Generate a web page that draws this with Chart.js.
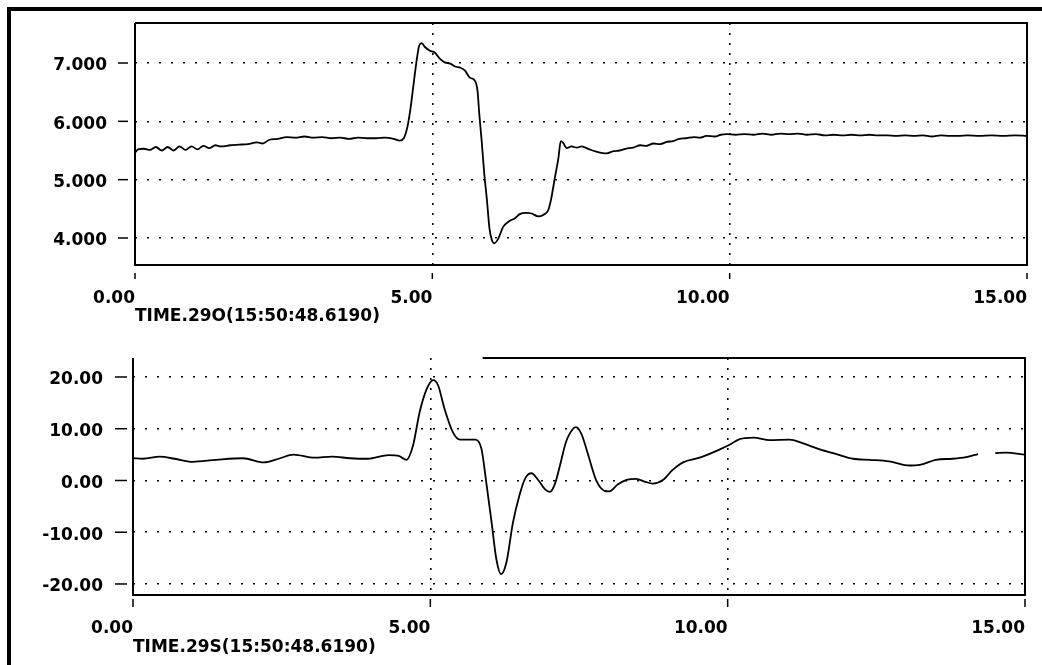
<!DOCTYPE html>
<html>
<head>
<meta charset="utf-8">
<title>TIME.29O / TIME.29S</title>
<script src="https://cdn.jsdelivr.net/npm/chart.js@4.4.0/dist/chart.umd.min.js"></script>
<style>
    html, body { margin: 0; padding: 0; background: #fff; }
    .page { position: relative; width: 1042px; height: 665px; overflow: hidden; }
    .frame { position: absolute; left: 7px; top: 7px; right: 0; bottom: 0; border-left: 4px solid #000; border-top: 4px solid #000; }
    #chart-top { position: absolute; left: 0; top: 0; }
    #chart-bottom { position: absolute; left: 0; top: 330px; }
</style>
</head>
<body>
<div class="page">
    <div class="frame"></div>
    <canvas id="chart-top" width="1042" height="330"></canvas>
    <canvas id="chart-bottom" width="1042" height="335"></canvas>
</div>
<script>
"use strict";

// x axis (seconds)
var xTickValues = [0, 5, 10, 15];

// top trace: TIME.29O
var topTitle = 'TIME.29O(15:50:48.6190)';
var topTickValues = [4, 5, 6, 7];
var timeTop = [
    0.00, 0.05, 0.15, 0.25, 0.35, 0.45, 0.55, 0.65, 0.75, 0.85, 0.95, 1.05, 1.15, 1.25, 1.35, 1.45,
    1.60, 1.75, 1.90, 2.05, 2.15, 2.25, 2.40, 2.55, 2.70, 2.85, 3.00, 3.15, 3.30, 3.45, 3.60, 3.75,
    3.90, 4.05, 4.20, 4.35, 4.45, 4.52, 4.58, 4.63, 4.68, 4.73, 4.78, 4.82, 4.88, 4.96, 5.04, 5.13,
    5.21, 5.30, 5.38, 5.47, 5.55, 5.63, 5.72, 5.76, 5.79, 5.83, 5.87, 5.92, 5.96, 6.00, 6.04, 6.11,
    6.19, 6.28, 6.39, 6.47, 6.58, 6.67, 6.78, 6.87, 6.95, 7.00, 7.06, 7.12, 7.16, 7.20, 7.26, 7.34,
    7.43, 7.51, 7.64, 7.76, 7.93, 8.05, 8.15, 8.25, 8.38, 8.50, 8.60, 8.72, 8.83, 8.95, 9.05, 9.15,
    9.27, 9.40, 9.50, 9.61, 9.75, 9.85, 9.95, 10.10, 10.25, 10.40, 10.55, 10.70, 10.85, 11.00, 11.15, 11.30,
    11.45, 11.60, 11.75, 11.90, 12.05, 12.20, 12.35, 12.50, 12.65, 12.80, 12.95, 13.10, 13.25, 13.40, 13.55, 13.70,
    13.85, 14.00, 14.20, 14.40, 14.60, 14.80, 15.00
];
var valuesTop = [
    5.46, 5.52, 5.53, 5.51, 5.56, 5.50, 5.56, 5.50, 5.57, 5.51, 5.57, 5.52, 5.58, 5.54, 5.59, 5.57,
    5.59, 5.60, 5.61, 5.64, 5.62, 5.68, 5.70, 5.73, 5.72, 5.74, 5.72, 5.73, 5.71, 5.72, 5.70, 5.72,
    5.71, 5.71, 5.72, 5.70, 5.67, 5.71, 5.90, 6.20, 6.60, 7.00, 7.30, 7.34, 7.27, 7.21, 7.18, 7.07,
    7.01, 6.99, 6.94, 6.92, 6.87, 6.75, 6.69, 6.52, 6.12, 5.66, 5.14, 4.63, 4.17, 3.97, 3.91, 3.99,
    4.19, 4.28, 4.34, 4.41, 4.43, 4.42, 4.37, 4.40, 4.48, 4.68, 5.03, 5.37, 5.66, 5.63, 5.54, 5.57,
    5.55, 5.57, 5.52, 5.48, 5.45, 5.49, 5.50, 5.53, 5.55, 5.59, 5.58, 5.62, 5.61, 5.65, 5.66, 5.70,
    5.71, 5.73, 5.72, 5.75, 5.74, 5.77, 5.78, 5.77, 5.78, 5.77, 5.79, 5.77, 5.79, 5.78, 5.79, 5.77,
    5.78, 5.76, 5.77, 5.76, 5.77, 5.76, 5.77, 5.76, 5.76, 5.75, 5.76, 5.75, 5.76, 5.74, 5.76, 5.75,
    5.75, 5.76, 5.75, 5.76, 5.75, 5.76, 5.75
];

// bottom trace: TIME.29S
var bottomTitle = 'TIME.29S(15:50:48.6190)';
var bottomTickValues = [-20, -10, 0, 10, 20];
var timeBottom = [
    0.00, 0.17, 0.45, 0.70, 1.00, 1.40, 1.85, 2.20, 2.45, 2.70, 3.05, 3.35, 3.65, 3.95, 4.30, 4.48,
    4.60, 4.71, 4.82, 4.94, 5.05, 5.13, 5.24, 5.38, 5.50, 5.64, 5.76, 5.86, 5.94, 6.03, 6.11, 6.19,
    6.28, 6.39, 6.50, 6.60, 6.70, 6.82, 6.93, 7.01, 7.10, 7.18, 7.28, 7.40, 7.45, 7.54, 7.64, 7.79,
    7.93, 8.01, 8.15, 8.30, 8.46, 8.60, 8.74, 8.91, 9.08, 9.25, 9.53, 9.87, 10.03, 10.20, 10.43, 10.71,
    11.04, 11.26, 11.55, 11.83, 12.11, 12.39, 12.72, 13.06, 13.23, 13.50, 13.78, 14.01, 14.21, 14.30,
    14.50, 14.68, 15.00
];
var valuesBottom = [
    4.3, 4.2, 4.6, 4.2, 3.6, 4.0, 4.3, 3.5, 4.2, 5.0, 4.4, 4.6, 4.3, 4.2, 4.9, 4.7,
    4.0, 6.8, 13.2, 17.7, 19.4, 18.4, 13.8, 9.3, 7.9, 7.9, 7.9, 6.1, -0.3, -8.1, -15.2, -18.1,
    -15.8, -8.1, -2.8, 0.5, 1.4, 0.0, -1.7, -2.2, -0.5, 2.9, 7.4, 10.0, 10.3, 9.0, 5.5, 0.0,
    -2.0, -2.1, -0.8, 0.1, 0.3, -0.2, -0.6, 0.1, 2.1, 3.5, 4.4, 6.0, 6.9, 8.0, 8.3, 7.8,
    7.9, 7.2, 6.0, 5.1, 4.2, 4.0, 3.7, 2.9, 3.0, 4.0, 4.2, 4.5, 5.1, null,
    5.3, 5.4, 5.0
];

Chart.defaults.color = '#000';
Chart.defaults.font.family = '"DejaVu Sans", sans-serif';
Chart.defaults.font.size = 17;
Chart.defaults.font.weight = 'bold';

// frame, outside tick marks (with a gap, like the plotter draws them)
var scopePlugin = {
    id: 'scope',
    afterDraw: function(chart, args, opts) {
        var ctx = chart.ctx;
        var area = chart.chartArea;
        var xs = chart.scales.x;
        var ys = chart.scales.y;

        ctx.save();
        ctx.strokeStyle = '#000';
        ctx.lineWidth = 2;
        ctx.beginPath();
        ctx.moveTo(area.left, area.top);
        ctx.lineTo(area.left, area.bottom);
        ctx.lineTo(area.right, area.bottom);
        ctx.lineTo(area.right, area.top);
        var topStart = opts.topFrom != null ? xs.getPixelForValue(opts.topFrom) : area.left;
        ctx.lineTo(topStart, area.top);
        ctx.stroke();

        ctx.lineWidth = 1.5;
        ys.ticks.forEach(function(t) {
            var y = ys.getPixelForValue(t.value);
            ctx.beginPath();
            ctx.moveTo(area.left - opts.yTickFar, y);
            ctx.lineTo(area.left - opts.yTickNear, y);
            ctx.stroke();
        });
        xs.ticks.forEach(function(t) {
            var x = xs.getPixelForValue(t.value);
            ctx.beginPath();
            ctx.moveTo(x, area.bottom + opts.xTickGap);
            ctx.lineTo(x, area.bottom + opts.xTickGap + opts.xTickLen);
            ctx.stroke();
        });
        ctx.restore();
    }
};

function makeScope(canvasId, times, values, cfg) {
    var points = times.map(function(t, i) {
        return { x: t, y: values[i] };
    });

    return new Chart(document.getElementById(canvasId), {
        type: 'line',
        data: {
            datasets: [{
                data: points,
                borderColor: '#000',
                borderWidth: 1.8,
                pointRadius: 0,
                fill: false,
                spanGaps: false,
                cubicInterpolationMode: 'monotone'
            }]
        },
        options: {
            responsive: false,
            animation: false,
            events: [],
            layout: { padding: cfg.padding },
            plugins: {
                legend: { display: false },
                tooltip: { enabled: false },
                scope: cfg.scope
            },
            scales: {
                x: {
                    type: 'linear',
                    min: 0,
                    max: 15,
                    afterBuildTicks: function(scale) {
                        scale.ticks = xTickValues.map(function(v) { return { value: v }; });
                    },
                    afterFit: function(scale) { scale.height = cfg.xHeight; },
                    ticks: {
                        align: 'end',
                        padding: 3,
                        maxRotation: 0,
                        autoSkip: false,
                        callback: function(v) { return Number(v).toFixed(2); }
                    },
                    grid: {
                        color: '#000',
                        lineWidth: 1.6,
                        drawTicks: true,
                        tickLength: 20,
                        tickColor: 'transparent'
                    },
                    border: { display: false, dash: [2, 8] },
                    title: {
                        display: true,
                        text: cfg.title,
                        align: 'start',
                        padding: { top: 0, bottom: cfg.titlePad },
                        font: { size: 17, weight: 'bold' }
                    }
                },
                y: {
                    min: cfg.yMin,
                    max: cfg.yMax,
                    afterBuildTicks: function(scale) {
                        scale.ticks = cfg.yTicks.map(function(v) { return { value: v }; });
                    },
                    afterFit: function(scale) { scale.width = cfg.yWidth; },
                    ticks: {
                        padding: 3,
                        labelOffset: 3,
                        callback: function(v) { return Number(v).toFixed(cfg.decimals); }
                    },
                    grid: {
                        color: '#000',
                        lineWidth: 1.6,
                        drawTicks: true,
                        tickLength: cfg.yTickLength,
                        tickColor: 'transparent'
                    },
                    border: { display: false, dash: [2, 10] }
                }
            }
        },
        plugins: [scopePlugin]
    });
}

//top chart
makeScope('chart-top', timeTop, valuesTop, {
    padding: { left: 0, right: 15, top: 23, bottom: 0 },
    title: topTitle,
    titlePad: 3,
    xHeight: 65,
    yWidth: 135,
    yTickLength: 25,
    yMin: 3.537,
    yMax: 7.686,
    yTicks: topTickValues,
    decimals: 3,
    scope: { yTickFar: 17, yTickNear: 7, xTickGap: 8, xTickLen: 6 }
});

//bottom chart
makeScope('chart-bottom', timeBottom, valuesBottom, {
    padding: { left: 0, right: 17, top: 28, bottom: 0 },
    title: bottomTitle,
    titlePad: 7,
    xHeight: 70,
    yWidth: 133,
    yTickLength: 27,
    yMin: -22.13,
    yMax: 23.67,
    yTicks: bottomTickValues,
    decimals: 2,
    scope: { yTickFar: 18, yTickNear: 6, xTickGap: 4, xTickLen: 8, topFrom: 5.88 }
});
</script>
</body>
</html>
